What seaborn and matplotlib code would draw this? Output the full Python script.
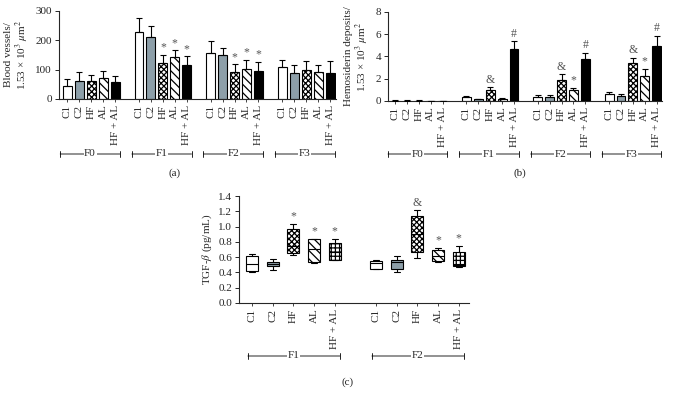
import numpy as np
import pandas as pd
import matplotlib
matplotlib.use('Agg')
import matplotlib.pyplot as plt
import matplotlib.transforms as mtransforms
import seaborn as sns

# Values
groups = ['F0', 'F1', 'F2', 'F3']
treatments = ['C1', 'C2', 'HF', 'AL', 'HF + AL']

# (a) blood vessels / 1.53e3 um^2 : mean and upper error per group
vessels_mean = [[43, 62, 62, 72, 57],
                [228, 212, 124, 143, 115],
                [158, 149, 93, 101, 97],
                [108, 89, 100, 92, 90]]
vessels_err = [[26, 30, 19, 25, 21],
               [47, 36, 26, 23, 30],
               [39, 25, 25, 32, 29],
               [24, 27, 30, 25, 40]]
vessels_marks = [['', '', '', '', ''],
                 ['', '', '*', '*', '*'],
                 ['', '', '*', '*', '*'],
                 ['', '', '', '', '']]

# (b) hemosiderin deposits / 1.53e3 um^2
hemo_mean = [[0.03, 0.03, 0.03, 0.02, 0.02],
             [0.36, 0.15, 1.02, 0.21, 4.70],
             [0.39, 0.33, 1.86, 0.99, 3.80],
             [0.66, 0.42, 3.38, 2.28, 4.91]]
hemo_err = [[0.03, 0.03, 0.02, 0.02, 0.02],
            [0.09, 0.04, 0.21, 0.05, 0.69],
            [0.18, 0.21, 0.54, 0.18, 0.54],
            [0.15, 0.24, 0.51, 0.62, 0.96]]
hemo_marks = [['', '', '', '', ''],
              ['', '', '&', '', '#'],
              ['', '', '&', '*', '#'],
              ['', '', '&', '*', '#']]

# (c) TGF-beta (pg/mL): min, q1, median, q3, max
tgf_groups = ['F1', 'F2']
tgf_f1 = [[0.41, 0.42, 0.51, 0.62, 0.64],
          [0.435, 0.48, 0.51, 0.54, 0.58],
          [0.63, 0.65, 0.75, 0.965, 1.035],
          [0.525, 0.54, 0.71, 0.835, 0.84],
          [0.557, 0.56, 0.665, 0.78, 0.84]]
tgf_f2 = [[0.44, 0.45, 0.52, 0.555, 0.56],
          [0.41, 0.45, 0.53, 0.565, 0.61],
          [0.59, 0.665, 0.90, 1.143, 1.217],
          [0.535, 0.545, 0.62, 0.695, 0.717],
          [0.47, 0.48, 0.50, 0.665, 0.743]]
tgf_marks = [['', '', '*', '*', '*'],
             ['', '', '&', '*', '*']]

# styles
fills = {'C1': 'white', 'C2': '#8d9fa9', 'HF': 'white', 'AL': 'white', 'HF + AL': 'black'}
hatches = {'C1': None, 'C2': None, 'HF': 'xxxxxx', 'AL': '\\\\\\\\', 'HF + AL': None}
box_hatches = {'C1': None, 'C2': None, 'HF': 'xxxxxx', 'AL': '\\\\\\\\', 'HF + AL': '++++'}

sns.set_style('ticks')
plt.rcParams['font.family'] = ['Liberation Serif', 'DejaVu Serif']
plt.rcParams['mathtext.fontset'] = 'stix'
plt.rcParams['hatch.linewidth'] = 0.9
plt.rcParams['axes.linewidth'] = 0.8

FS = 8
MARK_COLOR = '#555555'


def slot_order(grp_names):
    order = []
    for gi, g in enumerate(grp_names):
        for t in treatments:
            order.append(f'{g}|{t}')
        if gi < len(grp_names) - 1:
            order.append(f'gap{gi}')
    return order


def bar_frame(means, errs, marks):
    rows = []
    for gi, g in enumerate(groups):
        for ti, t in enumerate(treatments):
            rows.append({'key': f'{g}|{t}', 'group': g, 'treatment': t,
                         'mean': means[gi][ti], 'err': errs[gi][ti],
                         'mark': marks[gi][ti]})
    return pd.DataFrame(rows)


def add_brackets(ax, order, grp_names, ybr, left=-0.6, right=4.4):
    trans = mtransforms.blended_transform_factory(ax.transData, ax.transAxes)
    for g in grp_names:
        p0 = order.index(f'{g}|C1')
        x0, x1 = p0 + left, p0 + right
        ax.annotate('', xy=(x0, ybr), xytext=(x1, ybr), xycoords=trans,
                    textcoords=trans, annotation_clip=False,
                    arrowprops=dict(arrowstyle='|-|, widthA=0.2, widthB=0.2',
                                    lw=0.6, color='black', shrinkA=0, shrinkB=0))
        ax.text((x0 + x1) / 2, ybr, g, transform=trans, ha='center', va='center',
                fontsize=FS, bbox=dict(facecolor='white', edgecolor='none', pad=0.5))


def style_axis(ax, positions, labels):
    ax.set_xticks(positions)
    ax.set_xticklabels(labels, rotation=90, fontsize=FS)
    ax.tick_params(axis='x', length=2, width=0.6, pad=2)
    ax.tick_params(axis='y', length=3, width=0.7, labelsize=FS, pad=2)
    ax.set_xlabel('')
    sns.despine(ax=ax)


def bar_panel(ax, df, ylim, yticks, ylabel, xlim):
    order = slot_order(groups)
    for t in treatments:
        sub = df[df['treatment'] == t]
        sns.barplot(data=sub, x='key', y='mean', order=order, color=fills[t],
                    edgecolor='black', linewidth=0.8, width=0.75, saturation=1,
                    errorbar=None, hatch=hatches[t], ax=ax)
    pos = np.array([order.index(k) for k in df['key']])
    ax.errorbar(pos, df['mean'], yerr=[np.zeros(len(df)), df['err']], fmt='none',
                ecolor='black', elinewidth=0.8, capsize=2.2, capthick=0.8, zorder=5)
    for p, m, e, mk in zip(pos, df['mean'], df['err'], df['mark']):
        if mk:
            ax.annotate(mk, (p, m + e), xytext=(0, 1), textcoords='offset points',
                        ha='center', va='bottom', fontsize=8.5, color=MARK_COLOR)
    ax.set_ylim(*ylim)
    ax.set_yticks(yticks)
    ax.set_xlim(*xlim)
    ax.set_ylabel(ylabel, fontsize=FS, linespacing=1.1, labelpad=3)
    style_axis(ax, pos, df['treatment'].tolist())
    return order


fig = plt.figure(figsize=(6.74, 4.01), dpi=100)
W, H = 674, 401


def px_axes(x0, y0, x1, y1):
    return fig.add_axes([x0 / W, 1 - y1 / H, (x1 - x0) / W, (y1 - y0) / H])


# (a)
ax_a = px_axes(59, 11, 336, 99)
df_a = bar_frame(vessels_mean, vessels_err, vessels_marks)
order_a = bar_panel(ax_a, df_a, (0, 300), [0, 100, 200, 300],
                    'Blood vessels/\n1.53 × 10$^3$ $\\mu$m$^2$', (-0.7, 22.5))
add_brackets(ax_a, order_a, groups, -(154 - 99) / 88)

# (b)
ax_b = px_axes(388, 12, 662, 101)
df_b = bar_frame(hemo_mean, hemo_err, hemo_marks)
order_b = bar_panel(ax_b, df_b, (0, 8), [0, 2, 4, 6, 8],
                    'Hemosiderin deposits/\n1.53 × 10$^3$ $\\mu$m$^2$', (-0.6, 22.45))
add_brackets(ax_b, order_b, groups, -(154 - 101) / 89)

# (c)
ax_c = px_axes(239, 196, 469, 303)
order_c = slot_order(tgf_groups)
rows = []
for g, stats in zip(tgf_groups, [tgf_f1, tgf_f2]):
    for t, vals in zip(treatments, stats):
        for v in vals:
            rows.append({'key': f'{g}|{t}', 'treatment': t, 'val': v})
df_c = pd.DataFrame(rows)
for t in treatments:
    sub = df_c[df_c['treatment'] == t]
    sns.boxplot(data=sub, x='key', y='val', order=order_c, color=fills[t] if t != 'HF + AL' else 'white',
                linecolor='black', linewidth=0.8, width=0.58, whis=np.inf, saturation=1,
                boxprops={'hatch': box_hatches[t]}, ax=ax_c)
pos_c = []
for gi, g in enumerate(tgf_groups):
    for ti, t in enumerate(treatments):
        p = order_c.index(f'{g}|{t}')
        pos_c.append(p)
        mk = tgf_marks[gi][ti]
        if mk:
            top = max([tgf_f1, tgf_f2][gi][ti])
            ax_c.annotate(mk, (p, top), xytext=(0, 1), textcoords='offset points',
                          ha='center', va='bottom', fontsize=8.5, color=MARK_COLOR)
ax_c.set_ylim(0, 1.4)
ax_c.set_yticks(np.arange(0, 1.41, 0.2))
ax_c.set_yticklabels([f'{v:.1f}' for v in np.arange(0, 1.41, 0.2)])
ax_c.set_xlim(-0.63, 10.5)
ax_c.set_ylabel('TGF-$\\beta$ (pg/mL)', fontsize=FS, labelpad=3)
style_axis(ax_c, pos_c, treatments * 2)
add_brackets(ax_c, order_c, tgf_groups, -(356 - 303) / 107, left=-0.2, right=4.25)

fig.text(175 / W, 1 - 173 / H, '(a)', ha='center', va='center', fontsize=FS)
fig.text(520 / W, 1 - 173 / H, '(b)', ha='center', va='center', fontsize=FS)
fig.text(348 / W, 1 - 382 / H, '(c)', ha='center', va='center', fontsize=FS)

fig.savefig('out.png', dpi=100)
